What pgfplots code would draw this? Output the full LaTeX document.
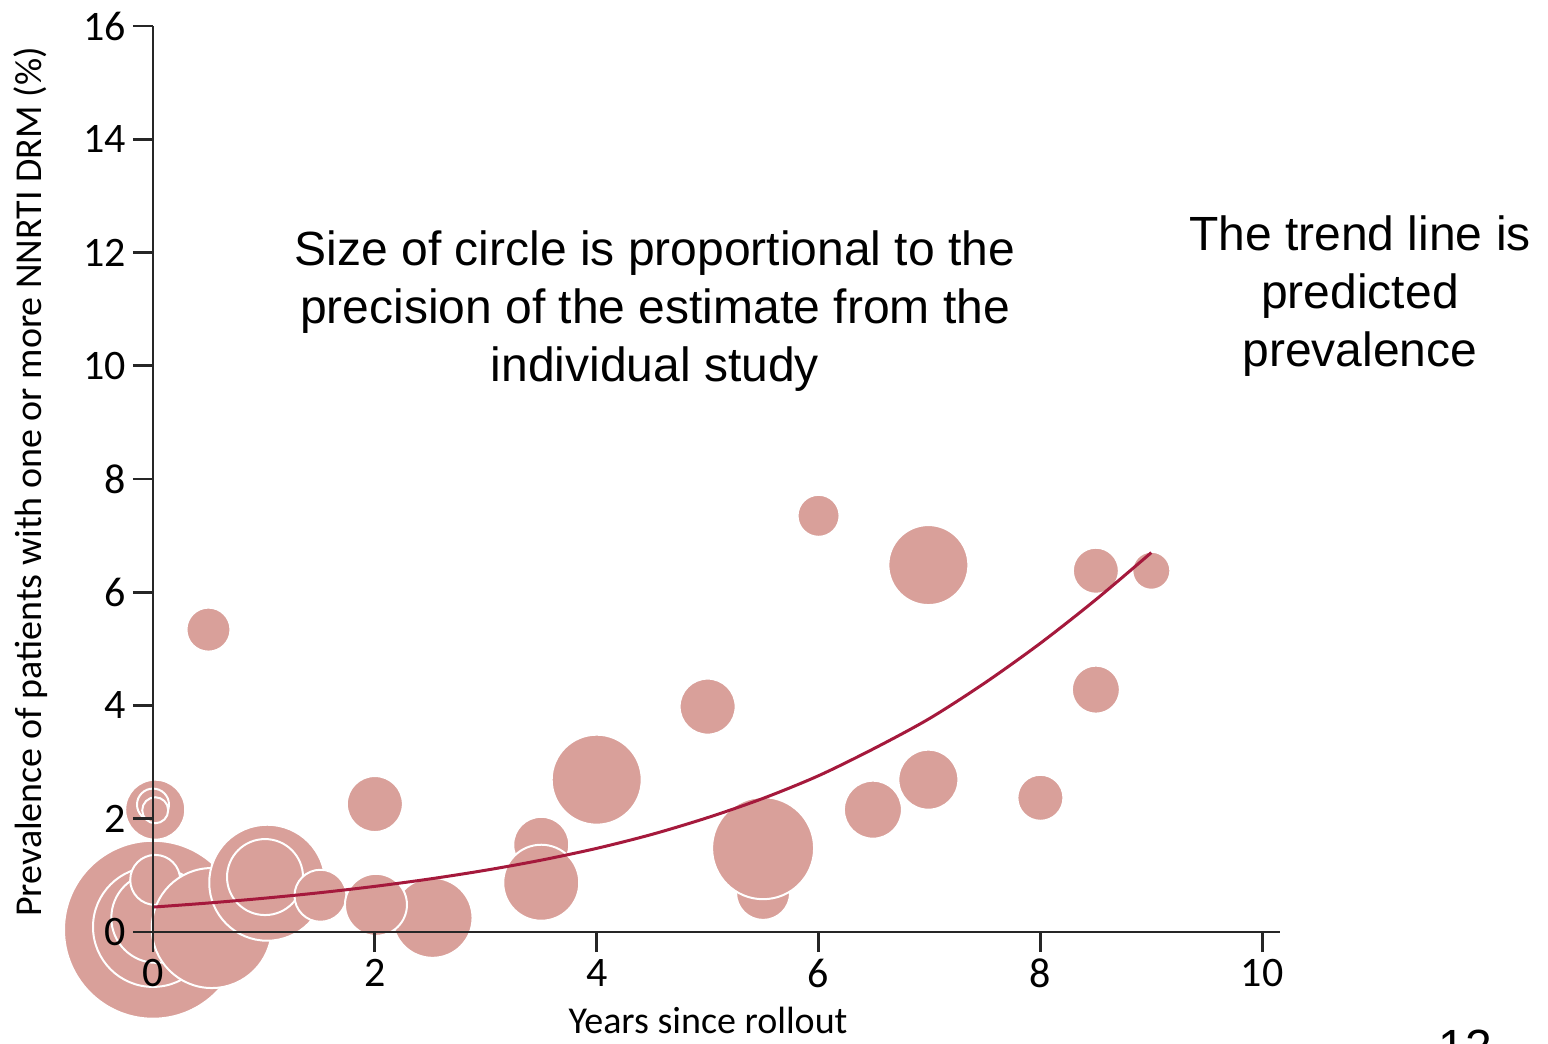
\documentclass[border=0pt]{standalone}
\usepackage{pgfplots}
\pgfplotsset{compat=1.18}
\usepackage{fontspec}
\setmainfont{Liberation Sans}
\newfontfamily\axfont{Carlito}
\definecolor{bub}{RGB}{217,160,154}
\definecolor{trend}{RGB}{165,25,60}
\pgfplotstableread{
x y r
0.00 0.04 44.5
0.00 0.09 30
0.03 0.25 22.5
0.02 0.92 12.5
0.53 0.07 30
1.03 0.87 29
1.01 0.97 19
1.51 0.64 13
2.52 0.25 20
2.01 0.48 15.5
2.00 2.26 14
0.02 2.16 15
0.00 2.25 8
0.02 2.15 6.5
0.50 5.34 11
3.50 1.54 14
3.50 0.87 19
4.00 2.69 22.5
5.00 3.98 14
5.50 0.69 13.5
5.50 1.48 25.5
6.49 2.16 14.5
6.00 7.35 10.5
6.99 6.48 20
8.50 6.38 11.5
9.00 6.38 9.5
8.50 4.28 12
6.99 2.69 15
8.00 2.37 11.5
}\bubbles
\begin{document}
\begin{tikzpicture}
\useasboundingbox (0,0) rectangle (774pt,522pt);
\begin{axis}[
  at={(76.5pt,56pt)}, anchor=south west,
  scale only axis, width=563.5pt, height=453pt,
  xmin=0, xmax=10.16, ymin=0, ymax=16,
  axis lines=left, axis line style={-, line width=1.4pt, color=black!85},
  xtick={0,2,...,10}, ytick={0,2,...,16},
  tick align=outside, major tick length=10pt,
  tick style={line width=1.4pt, color=black!85},
  axis on top=true, clip=false, clip marker paths=true,
  /pgf/number format/assume math mode=true,
  ticklabel style={font=\axfont\fontsize{21}{21}\selectfont},
]
\addplot[only marks, scatter, mark=*, point meta=\thisrow{r},
  scatter/use mapped color={draw=white, fill=bub},
  visualization depends on={\thisrow{r} \as \rr},
  scatter/@pre marker code/.append style={/tikz/mark size=\rr pt},
  mark options={line width=1pt}] table[x=x,y=y] {\bubbles};
\addplot[trend, line width=1.5pt, smooth] coordinates {
(0,0.44) (0.5,0.512) (1,0.596) (1.5,0.693) (2,0.806) (2.5,0.938) (3,1.091)
(3.5,1.269) (4,1.477) (4.5,1.725) (5,2.02) (5.5,2.36) (6,2.76) (6.5,3.24)
(7,3.77) (7.5,4.40) (8,5.10) (8.5,5.87) (9,6.70)};
\end{axis}
\node[font=\axfont\fontsize{19}{19}\selectfont, anchor=base] at (354pt,5pt) {Years since rollout};
\node[font=\axfont\fontsize{19}{19}\selectfont, anchor=base, rotate=90] at (20.5pt,281pt) {Prevalence of patients with one or more NNRTI DRM (\%)};
\node[font=\fontsize{24}{29}\selectfont, align=center] at (327.5pt,366.5pt) {Size of circle is proportional to the\\precision of the estimate from the\\individual study};
\node[font=\fontsize{24}{29}\selectfont, align=center] at (680pt,374pt) {The trend line is\\predicted\\prevalence};
\node[font=\fontsize{24}{29}\selectfont, anchor=base] at (732.5pt,-10pt) {12};
\end{tikzpicture}
\end{document}
